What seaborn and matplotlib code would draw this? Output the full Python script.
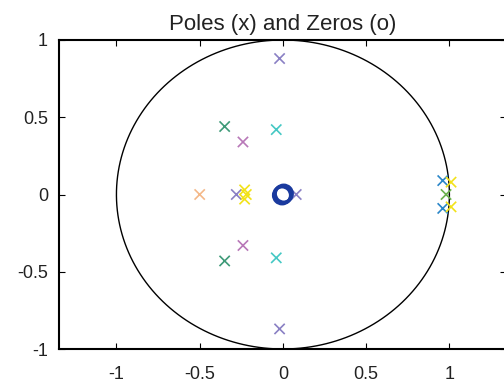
import numpy as np
import pandas as pd
import matplotlib
matplotlib.use("Agg")
import matplotlib.pyplot as plt
import seaborn as sns

# ---- data ----
pole_re = [-0.02, -0.02, -0.35, -0.35, -0.04, -0.04, -0.24, -0.24,
           -0.50, -0.28, -0.23, -0.23, -0.22, 0.08, 0.96, 0.96, 1.01, 1.01, 0.98]
pole_im = [0.88, -0.87, 0.44, -0.43, 0.42, -0.41, 0.34, -0.33,
           0.0, 0.0, 0.03, -0.03, 0.0, 0.0, 0.09, -0.09, 0.08, -0.08, 0.0]
pole_sys = ["A", "A", "B", "B", "C", "C", "D", "D",
            "E", "A", "F", "F", "F", "A", "G", "G", "F", "F", "H"]
zero_re = [0.0, 0.005, -0.005]
zero_im = [0.0, 0.005, -0.005]

sys_colors = {"A": "#8a80c4", "B": "#3e9a78", "C": "#45c8c4", "D": "#b878b8",
              "E": "#f4b888", "F": "#f2e21a", "G": "#2a86c8", "H": "#6ab04c"}

title = "Poles (x) and Zeros (o)"
xticks = [-1, -0.5, 0, 0.5, 1]
yticks = [-1, -0.5, 0, 0.5, 1]

sns.set_theme(style="white")
plt.rcParams["font.family"] = ["Liberation Sans", "DejaVu Sans"]

fig = plt.figure(figsize=(5.04, 3.87), dpi=100)
ax = fig.add_axes([59/504, (387-349)/387, (506-59)/504, (349-40)/387])

# unit circle (reference curve)
t = np.linspace(0, 2*np.pi, 400)
ax.plot(np.cos(t), np.sin(t), color="black", lw=1.0, zorder=1)

poles = pd.DataFrame({"re": pole_re, "im": pole_im, "sys": pole_sys})
sns.scatterplot(data=poles, x="re", y="im", hue="sys", palette=sys_colors,
                marker="x", s=55, linewidth=1.2, legend=False, ax=ax, zorder=3)

zeros = pd.DataFrame({"re": zero_re, "im": zero_im})
sns.scatterplot(data=zeros, x="re", y="im", marker="o", s=150,
                facecolor="none", edgecolor="#1a3a9e", linewidth=2.4,
                legend=False, ax=ax, zorder=4)

ax.set_xlim(-1.345, 1.34)
ax.set_ylim(-1, 1)
ax.set_xticks(xticks)
ax.set_yticks(yticks)
ax.set_xticklabels(["-1", "-0.5", "0", "0.5", "1"])
ax.set_yticklabels(["-1", "-0.5", "0", "0.5", "1"])
ax.set_xlabel("")
ax.set_ylabel("")
ax.tick_params(direction="in", length=4, width=0.8, color="black",
               labelsize=13, labelcolor="#222222", pad=8,
               top=True, right=True, bottom=True, left=True)
ax.tick_params(axis="x", pad=12)
for sp in ax.spines.values():
    sp.set_color("black")
    sp.set_linewidth(1.5)
ax.set_title(title, fontsize=16, color="#222222", pad=7)

fig.savefig("out.png", dpi=100)
